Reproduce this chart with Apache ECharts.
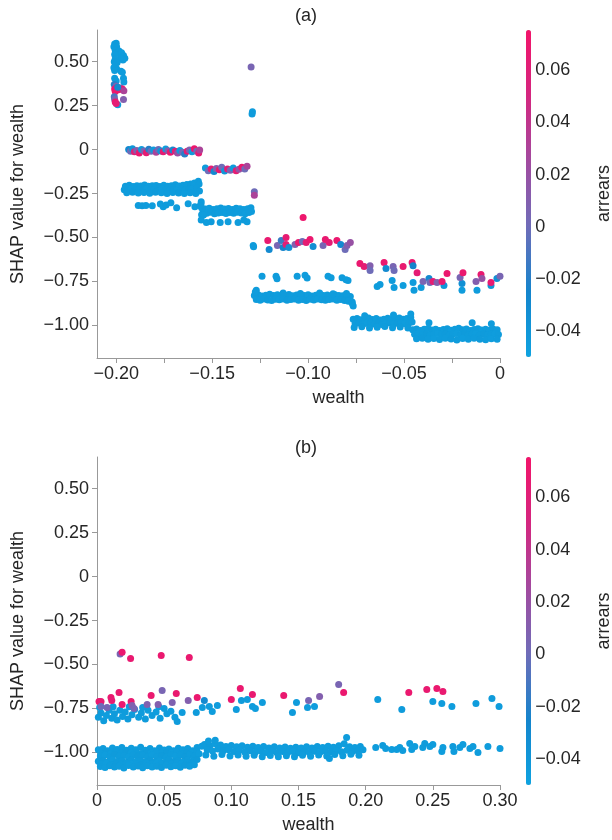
<!DOCTYPE html>
<html>
<head>
<meta charset="utf-8">
<script src="https://cdn.jsdelivr.net/npm/echarts@6/dist/echarts.min.js"></script>
<style>
html, body { margin: 0; padding: 0; background: #fff; }
#chart { width: 612px; height: 840px; }
</style>
</head>
<body>
<div id="chart"></div>
<script>
// each point: [wealth, SHAP value for wealth, arrears]

// panel (a) - blue points (low arrears)
const blueA = [
  // top left cluster
  [-0.2008,0.60,-0.045],[-0.2,0.605,-0.044],[-0.2012,0.585,-0.046],[-0.1998,0.585,-0.045],[-0.2005,0.565,-0.045],[-0.1995,0.55,-0.044],
  [-0.1985,0.56,-0.045],[-0.1972,0.55,-0.046],[-0.1962,0.535,-0.045],[-0.1955,0.52,-0.044],[-0.1965,0.51,-0.045],[-0.1978,0.52,-0.045],
  [-0.2008,0.54,-0.046],[-0.2005,0.515,-0.045],[-0.201,0.5,-0.044],[-0.1995,0.495,-0.045],[-0.2005,0.48,-0.045],[-0.2012,0.465,-0.046],
  [-0.1998,0.46,-0.045],[-0.2008,0.45,-0.045],[-0.1975,0.445,-0.044],[-0.1968,0.44,-0.045],[-0.2008,0.405,-0.045],[-0.2,0.39,-0.044],
  [-0.1962,0.405,-0.045],[-0.196,0.385,-0.046],[-0.1992,0.255,-0.045],
  [-0.129,0.215,-0.045],[-0.1292,0.203,-0.044],
  // band at -0.22
  [-0.1952,-0.208,-0.045],[-0.1932,-0.203,-0.044],[-0.1912,-0.21,-0.046],[-0.1892,-0.205,-0.045],[-0.1872,-0.207,-0.045],[-0.1852,-0.202,-0.044],
  [-0.1832,-0.209,-0.046],[-0.1812,-0.206,-0.045],[-0.1792,-0.204,-0.045],[-0.1772,-0.21,-0.044],[-0.1752,-0.203,-0.046],[-0.1732,-0.208,-0.045],
  [-0.1712,-0.205,-0.045],[-0.1692,-0.2,-0.044],[-0.1672,-0.207,-0.046],[-0.1652,-0.203,-0.045],[-0.1632,-0.198,-0.045],[-0.1612,-0.195,-0.044],
  [-0.1592,-0.19,-0.046],[-0.1572,-0.18,-0.045],[-0.1568,-0.195,-0.045],
  [-0.1958,-0.228,-0.045],[-0.1942,-0.233,-0.044],[-0.1922,-0.226,-0.046],[-0.1902,-0.231,-0.045],[-0.1882,-0.227,-0.045],[-0.1862,-0.233,-0.044],
  [-0.1842,-0.226,-0.046],[-0.1822,-0.23,-0.045],[-0.1802,-0.228,-0.045],[-0.1782,-0.233,-0.044],[-0.1762,-0.226,-0.046],[-0.1742,-0.229,-0.045],
  [-0.1722,-0.233,-0.045],[-0.1702,-0.227,-0.044],[-0.1682,-0.23,-0.046],[-0.1662,-0.225,-0.045],[-0.1642,-0.231,-0.045],[-0.1622,-0.226,-0.044],
  [-0.1602,-0.222,-0.046],[-0.1582,-0.215,-0.045],[-0.1566,-0.235,-0.045],
  [-0.1945,-0.245,-0.045],[-0.1915,-0.242,-0.044],[-0.1885,-0.247,-0.046],[-0.1855,-0.244,-0.045],[-0.1825,-0.248,-0.045],[-0.1795,-0.243,-0.044],
  [-0.1765,-0.246,-0.046],[-0.1735,-0.249,-0.045],[-0.1705,-0.244,-0.045],[-0.1675,-0.247,-0.044],[-0.1645,-0.25,-0.046],[-0.1615,-0.245,-0.045],
  [-0.1585,-0.25,-0.045],
  [-0.1885,-0.318,-0.045],[-0.1865,-0.32,-0.044],[-0.1845,-0.318,-0.045],[-0.1812,-0.32,-0.046],[-0.177,-0.31,-0.045],[-0.1755,-0.325,-0.045],
  [-0.174,-0.315,-0.044],[-0.1715,-0.302,-0.045],[-0.1685,-0.33,-0.045],[-0.1625,-0.308,-0.046],[-0.159,-0.325,-0.045],[-0.1557,-0.297,-0.045],
  // band at -0.35
  [-0.1555,-0.33,-0.045],[-0.1535,-0.338,-0.044],[-0.1515,-0.334,-0.046],[-0.1495,-0.34,-0.045],[-0.1475,-0.336,-0.045],[-0.1455,-0.332,-0.044],
  [-0.1435,-0.338,-0.046],[-0.1415,-0.335,-0.045],[-0.1395,-0.34,-0.045],[-0.1375,-0.333,-0.044],[-0.1355,-0.337,-0.046],[-0.1335,-0.341,-0.045],
  [-0.1315,-0.336,-0.045],[-0.1298,-0.33,-0.044],
  [-0.1548,-0.358,-0.045],[-0.1528,-0.362,-0.046],[-0.1508,-0.356,-0.045],[-0.1488,-0.365,-0.044],[-0.1468,-0.36,-0.045],[-0.1448,-0.357,-0.045],
  [-0.1428,-0.363,-0.046],[-0.1408,-0.358,-0.045],[-0.1388,-0.362,-0.044],[-0.1368,-0.356,-0.045],[-0.1348,-0.36,-0.045],[-0.1328,-0.365,-0.046],
  [-0.1308,-0.358,-0.045],[-0.1295,-0.352,-0.045],
  [-0.1558,-0.31,-0.045],[-0.1562,-0.32,-0.044],[-0.1555,-0.37,-0.045],[-0.1545,-0.372,-0.046],
  [-0.1557,-0.4,-0.045],[-0.153,-0.415,-0.045],[-0.1505,-0.41,-0.044],[-0.1458,-0.415,-0.045],[-0.1417,-0.41,-0.046],[-0.1365,-0.415,-0.045],
  [-0.1318,-0.41,-0.045],[-0.1335,-0.4,-0.044],
  [-0.1286,-0.545,-0.045],[-0.1284,-0.552,-0.044],
  // row at -0.73
  [-0.124,-0.72,-0.045],[-0.1167,-0.72,-0.045],[-0.1162,-0.735,-0.044],[-0.1057,-0.72,-0.045],[-0.1016,-0.715,-0.046],[-0.1005,-0.73,-0.045],
  [-0.0896,-0.72,-0.045],[-0.088,-0.728,-0.045],[-0.0823,-0.728,-0.044],[-0.0802,-0.74,-0.045],[-0.0792,-0.745,-0.045],[-0.127,-0.80,-0.045],
  // band at -0.84
  [-0.128,-0.83,-0.045],[-0.126,-0.825,-0.044],[-0.124,-0.832,-0.046],[-0.122,-0.828,-0.045],[-0.12,-0.823,-0.045],[-0.118,-0.83,-0.044],
  [-0.116,-0.826,-0.046],[-0.114,-0.833,-0.045],[-0.112,-0.829,-0.045],[-0.11,-0.824,-0.044],[-0.108,-0.831,-0.046],[-0.106,-0.827,-0.045],
  [-0.104,-0.822,-0.045],[-0.102,-0.83,-0.044],[-0.1,-0.826,-0.046],[-0.098,-0.832,-0.045],[-0.096,-0.828,-0.045],[-0.094,-0.823,-0.044],
  [-0.092,-0.83,-0.046],[-0.09,-0.827,-0.045],[-0.088,-0.833,-0.045],[-0.086,-0.825,-0.044],[-0.084,-0.829,-0.046],[-0.082,-0.831,-0.045],
  [-0.08,-0.826,-0.045],[-0.078,-0.835,-0.044],
  [-0.127,-0.852,-0.045],[-0.125,-0.856,-0.046],[-0.123,-0.85,-0.045],[-0.121,-0.855,-0.044],[-0.119,-0.858,-0.045],[-0.117,-0.851,-0.045],
  [-0.115,-0.854,-0.046],[-0.113,-0.849,-0.045],[-0.111,-0.857,-0.044],[-0.109,-0.853,-0.045],[-0.107,-0.85,-0.045],[-0.105,-0.856,-0.046],
  [-0.103,-0.852,-0.045],[-0.101,-0.858,-0.044],[-0.099,-0.851,-0.045],[-0.097,-0.855,-0.045],[-0.095,-0.849,-0.046],[-0.093,-0.854,-0.045],
  [-0.091,-0.857,-0.044],[-0.089,-0.852,-0.045],[-0.087,-0.85,-0.045],[-0.085,-0.856,-0.046],[-0.083,-0.853,-0.045],[-0.081,-0.858,-0.044],
  [-0.079,-0.862,-0.045],[-0.077,-0.866,-0.045],
  [-0.1275,-0.81,-0.045],[-0.113,-0.815,-0.044],[-0.104,-0.818,-0.045],[-0.094,-0.815,-0.046],[-0.087,-0.82,-0.045],[-0.08,-0.818,-0.045],
  [-0.077,-0.875,-0.044],[-0.0765,-0.89,-0.045],
  // lower blue near -0.77
  [-0.064,-0.778,-0.045],[-0.0625,-0.767,-0.045],[-0.0562,-0.744,-0.044],[-0.0552,-0.784,-0.045],[-0.0505,-0.773,-0.046],[-0.0453,-0.756,-0.045],
  [-0.0448,-0.80,-0.045],[-0.0411,-0.784,-0.044],[-0.037,-0.733,-0.03],[-0.0292,-0.773,-0.04],[-0.0198,-0.761,-0.035],[-0.0198,-0.80,-0.045],
  [-0.012,-0.80,-0.045],[-0.0047,-0.773,-0.04],[-0.0016,-0.733,-0.035],
  // band at -0.98
  [-0.0765,-0.965,-0.045],[-0.0745,-0.96,-0.044],[-0.0725,-0.968,-0.046],[-0.0705,-0.963,-0.045],[-0.0685,-0.958,-0.045],[-0.0665,-0.966,-0.044],
  [-0.0645,-0.961,-0.046],[-0.0625,-0.969,-0.045],[-0.0605,-0.964,-0.045],[-0.0585,-0.959,-0.044],[-0.0565,-0.967,-0.046],[-0.0545,-0.962,-0.045],
  [-0.0525,-0.957,-0.045],[-0.0505,-0.965,-0.044],[-0.0485,-0.96,-0.046],[-0.0465,-0.955,-0.045],
  [-0.0755,-0.99,-0.045],[-0.0735,-0.986,-0.044],[-0.0715,-0.993,-0.045],[-0.0695,-0.988,-0.046],[-0.0675,-0.984,-0.045],[-0.0655,-0.991,-0.045],
  [-0.0635,-0.987,-0.044],[-0.0615,-0.994,-0.045],[-0.0595,-0.989,-0.046],[-0.0575,-0.985,-0.045],[-0.0555,-0.992,-0.045],[-0.0535,-0.988,-0.044],
  [-0.0515,-0.983,-0.045],[-0.0495,-0.99,-0.046],[-0.0475,-0.986,-0.045],[-0.0458,-0.98,-0.045],
  [-0.076,-1.012,-0.045],[-0.072,-1.008,-0.044],[-0.068,-1.015,-0.045],[-0.064,-1.01,-0.046],[-0.06,-1.006,-0.045],[-0.056,-1.013,-0.045],
  [-0.052,-1.009,-0.044],[-0.048,-1.015,-0.045],
  [-0.0555,-0.94,-0.045],[-0.0465,-0.935,-0.045],[-0.0705,-0.945,-0.044],
  // band at -1.05
  [-0.0455,-1.025,-0.045],[-0.0435,-1.02,-0.044],[-0.0415,-1.028,-0.046],[-0.0395,-1.022,-0.045],[-0.0375,-1.017,-0.045],[-0.0355,-1.026,-0.044],
  [-0.0335,-1.021,-0.046],[-0.0315,-1.029,-0.045],[-0.0295,-1.023,-0.045],[-0.0275,-1.018,-0.044],[-0.0255,-1.027,-0.046],[-0.0235,-1.022,-0.045],
  [-0.0215,-1.016,-0.045],[-0.0195,-1.025,-0.044],[-0.0175,-1.02,-0.046],[-0.0155,-1.028,-0.045],[-0.0135,-1.023,-0.045],[-0.0115,-1.018,-0.044],
  [-0.0095,-1.026,-0.046],[-0.0075,-1.021,-0.045],[-0.0055,-1.027,-0.045],[-0.0035,-1.022,-0.044],[-0.0015,-1.025,-0.045],
  [-0.0445,-1.05,-0.045],[-0.0425,-1.046,-0.046],[-0.0405,-1.053,-0.045],[-0.0385,-1.048,-0.044],[-0.0365,-1.055,-0.045],[-0.0345,-1.05,-0.045],
  [-0.0325,-1.045,-0.046],[-0.0305,-1.052,-0.045],[-0.0285,-1.048,-0.044],[-0.0265,-1.055,-0.045],[-0.0245,-1.049,-0.045],[-0.0225,-1.046,-0.046],
  [-0.0205,-1.053,-0.045],[-0.0185,-1.048,-0.044],[-0.0165,-1.055,-0.045],[-0.0145,-1.05,-0.045],[-0.0125,-1.046,-0.046],[-0.0105,-1.053,-0.045],
  [-0.0085,-1.048,-0.044],[-0.0065,-1.054,-0.045],[-0.0045,-1.05,-0.045],[-0.0025,-1.047,-0.046],[-0.0008,-1.052,-0.045],
  [-0.0435,-1.075,-0.045],[-0.0405,-1.072,-0.044],[-0.0375,-1.078,-0.045],[-0.0345,-1.074,-0.046],[-0.0315,-1.08,-0.045],[-0.0285,-1.073,-0.045],
  [-0.0255,-1.077,-0.044],[-0.0225,-1.082,-0.045],[-0.0195,-1.074,-0.046],[-0.0165,-1.079,-0.045],[-0.0135,-1.073,-0.045],[-0.0105,-1.078,-0.044],
  [-0.0075,-1.081,-0.045],[-0.0045,-1.075,-0.046],[-0.0015,-1.079,-0.045],
  [-0.037,-0.985,-0.045],[-0.0145,-0.985,-0.044],[-0.0045,-0.99,-0.045]
];

// panel (a) - mixed colour points
const mixedA = [
  [-0.201,0.37,-0.02],[-0.2,0.36,0.005],[-0.2008,0.345,0.07],[-0.1998,0.35,0.06],[-0.1988,0.34,0.065],[-0.1978,0.35,0.01],
  [-0.1968,0.345,0.068],[-0.196,0.335,0.03],[-0.2005,0.33,0.072],[-0.1992,0.355,-0.03],
  [-0.201,0.3,-0.01],[-0.2008,0.285,0.005],[-0.2005,0.27,0.07],[-0.2,0.262,0.065],[-0.1962,0.285,0.01],
  [-0.1297,0.47,0.005],
  // band at 0
  [-0.1935,0.0,-0.03],[-0.1925,-0.01,0.0],[-0.1915,0.005,-0.04],[-0.1905,-0.012,0.06],[-0.1893,-0.005,0.01],[-0.188,-0.02,0.07],
  [-0.1868,0.0,-0.045],[-0.1855,-0.008,0.005],[-0.1843,-0.018,0.065],[-0.183,0.002,-0.02],[-0.1818,-0.01,0.0],[-0.1805,-0.003,-0.045],
  [-0.1792,-0.015,0.03],[-0.178,0.0,0.0],[-0.1768,-0.008,-0.04],[-0.1755,-0.012,0.065],[-0.1742,0.003,-0.045],[-0.173,-0.006,0.01],
  [-0.1718,-0.015,0.07],[-0.1705,-0.002,-0.03],[-0.1692,-0.01,0.06],[-0.168,-0.02,0.02],[-0.1668,-0.005,-0.045],[-0.1655,-0.015,0.0],
  [-0.1643,-0.025,-0.02],[-0.163,-0.01,0.065],[-0.1618,-0.003,0.01],[-0.1605,-0.012,-0.045],[-0.1593,0.005,0.07],[-0.158,-0.01,0.0],
  [-0.157,-0.02,0.065],[-0.1565,-0.002,0.03],
  // band at -0.11
  [-0.1535,-0.105,-0.045],[-0.152,-0.12,0.0],[-0.1505,-0.11,0.065],[-0.149,-0.125,-0.03],[-0.1478,-0.108,0.01],[-0.1462,-0.115,0.07],
  [-0.145,-0.10,0.0],[-0.1435,-0.122,-0.04],[-0.142,-0.11,0.06],[-0.1405,-0.118,0.005],[-0.139,-0.105,-0.045],[-0.1375,-0.12,0.065],
  [-0.136,-0.112,0.02],[-0.1345,-0.1,0.07],[-0.133,-0.11,0.0],[-0.1318,-0.095,0.03],
  [-0.128,-0.24,0.0],[-0.128,-0.26,0.03],
  // group at -0.53
  [-0.121,-0.517,0.068],[-0.1203,-0.568,-0.03],[-0.116,-0.545,0.005],[-0.114,-0.517,-0.015],[-0.113,-0.557,-0.025],[-0.1115,-0.50,0.066],
  [-0.1115,-0.54,0.06],[-0.11,-0.557,-0.035],[-0.1068,-0.54,0.01],[-0.105,-0.528,0.07],[-0.103,-0.523,0.0],[-0.101,-0.528,0.065],
  [-0.099,-0.511,0.07],[-0.0974,-0.551,-0.035],[-0.0922,-0.545,0.005],[-0.091,-0.511,0.068],[-0.089,-0.528,0.064],[-0.085,-0.517,0.07],
  [-0.083,-0.54,-0.03],[-0.0807,-0.568,0.0],[-0.0797,-0.545,0.01],[-0.078,-0.528,0.02],
  [-0.1026,-0.386,0.072],
  // group at -0.66
  [-0.073,-0.648,0.07],[-0.0708,-0.665,0.065],[-0.0677,-0.66,0.01],[-0.0677,-0.687,0.0],[-0.0604,-0.642,0.07],[-0.0594,-0.676,-0.03],
  [-0.0557,-0.665,0.005],[-0.0552,-0.687,0.0],[-0.0505,-0.665,0.068],[-0.0458,-0.642,0.07],[-0.0453,-0.66,-0.025],[-0.0432,-0.70,0.065],
  // group at -0.74
  [-0.0401,-0.75,0.005],[-0.0365,-0.756,0.0],[-0.0349,-0.75,0.065],[-0.0328,-0.756,0.01],[-0.0302,-0.75,0.068],[-0.0276,-0.705,0.07],
  [-0.0208,-0.727,0.005],[-0.0193,-0.70,0.07],[-0.0125,-0.75,0.01],[-0.0099,-0.71,0.068],[-0.0094,-0.733,0.02],[-0.0047,-0.756,0.066],
  [0.0,-0.72,0.005]
];

// panel (b) - blue points (low arrears)
const blueB = [
  // dense band, wealth 0 to 0.08
  [0.001,-0.985,-0.045],[0.0045,-0.978,-0.044],[0.008,-0.99,-0.046],[0.0115,-0.975,-0.045],[0.015,-0.983,-0.045],[0.0185,-0.972,-0.044],
  [0.022,-0.988,-0.046],[0.0255,-0.976,-0.045],[0.029,-0.984,-0.045],[0.0325,-0.97,-0.044],[0.036,-0.987,-0.046],[0.0395,-0.978,-0.045],
  [0.043,-0.99,-0.045],[0.0465,-0.974,-0.044],[0.05,-0.986,-0.046],[0.0535,-0.98,-0.045],[0.057,-0.99,-0.045],[0.0605,-0.976,-0.044],
  [0.064,-0.985,-0.046],[0.0675,-0.978,-0.045],[0.071,-0.99,-0.045],[0.0745,-0.972,-0.044],[0.078,-0.965,-0.046],
  [0.003,-1.003,-0.045],[0.0068,-0.998,-0.044],[0.0105,-1.006,-0.046],[0.0142,-1.0,-0.045],[0.018,-1.004,-0.045],[0.0218,-0.997,-0.044],
  [0.0255,-1.005,-0.046],[0.0292,-1.0,-0.045],[0.033,-1.006,-0.045],[0.0368,-0.999,-0.044],[0.0405,-1.003,-0.046],[0.0442,-0.998,-0.045],
  [0.048,-1.005,-0.045],[0.0518,-1.0,-0.044],[0.0555,-1.004,-0.046],[0.0592,-0.998,-0.045],[0.063,-1.006,-0.045],[0.0668,-1.0,-0.044],
  [0.0705,-1.003,-0.046],[0.0742,-0.995,-0.045],
  [0.0025,-1.02,-0.045],[0.006,-1.015,-0.046],[0.0095,-1.025,-0.045],[0.013,-1.012,-0.044],[0.0165,-1.022,-0.045],[0.02,-1.017,-0.045],
  [0.0235,-1.027,-0.046],[0.027,-1.013,-0.045],[0.0305,-1.021,-0.044],[0.034,-1.016,-0.045],[0.0375,-1.026,-0.045],[0.041,-1.014,-0.046],
  [0.0445,-1.023,-0.045],[0.048,-1.018,-0.044],[0.0515,-1.027,-0.045],[0.055,-1.012,-0.045],[0.0585,-1.022,-0.046],[0.062,-1.016,-0.045],
  [0.0655,-1.025,-0.044],[0.069,-1.013,-0.045],[0.0725,-1.02,-0.045],[0.076,-1.008,-0.046],
  [0.001,-1.05,-0.045],[0.0045,-1.045,-0.044],[0.008,-1.055,-0.045],[0.0115,-1.042,-0.046],[0.015,-1.052,-0.045],[0.0185,-1.047,-0.045],
  [0.022,-1.057,-0.044],[0.0255,-1.043,-0.045],[0.029,-1.051,-0.046],[0.0325,-1.046,-0.045],[0.036,-1.056,-0.045],[0.0395,-1.044,-0.044],
  [0.043,-1.053,-0.045],[0.0465,-1.048,-0.046],[0.05,-1.057,-0.045],[0.0535,-1.042,-0.045],[0.057,-1.052,-0.044],[0.0605,-1.046,-0.045],
  [0.064,-1.055,-0.046],[0.0675,-1.043,-0.045],[0.071,-1.05,-0.045],[0.0745,-1.04,-0.044],
  [0.003,-1.066,-0.045],[0.0068,-1.062,-0.046],[0.0105,-1.068,-0.045],[0.0142,-1.063,-0.044],[0.018,-1.067,-0.045],[0.0218,-1.061,-0.045],
  [0.0255,-1.066,-0.046],[0.0292,-1.063,-0.045],[0.033,-1.068,-0.044],[0.0368,-1.062,-0.045],[0.0405,-1.066,-0.045],[0.0442,-1.061,-0.046],
  [0.048,-1.067,-0.045],[0.0518,-1.063,-0.044],[0.0555,-1.066,-0.045],[0.0592,-1.06,-0.045],[0.063,-1.065,-0.046],[0.0668,-1.06,-0.045],
  [0.0705,-1.062,-0.044],
  [0.0025,-1.08,-0.045],[0.006,-1.086,-0.046],[0.0095,-1.075,-0.045],[0.013,-1.083,-0.044],[0.0165,-1.078,-0.045],[0.02,-1.088,-0.045],
  [0.0235,-1.074,-0.046],[0.027,-1.082,-0.045],[0.0305,-1.077,-0.044],[0.034,-1.087,-0.045],[0.0375,-1.075,-0.045],[0.041,-1.083,-0.046],
  [0.0445,-1.078,-0.045],[0.048,-1.085,-0.044],[0.0515,-1.073,-0.045],[0.055,-1.081,-0.045],[0.0585,-1.076,-0.046],[0.062,-1.084,-0.045],
  [0.0655,-1.072,-0.044],[0.069,-1.079,-0.045],[0.0725,-1.07,-0.045],
  // dense band, wealth 0.08 to 0.2
  [0.08,-0.955,-0.045],[0.084,-0.962,-0.044],[0.088,-0.95,-0.046],[0.092,-0.958,-0.045],[0.096,-0.966,-0.045],[0.1,-0.96,-0.044],
  [0.104,-0.968,-0.046],[0.108,-0.962,-0.045],[0.112,-0.97,-0.045],[0.116,-0.965,-0.044],[0.12,-0.972,-0.046],[0.124,-0.966,-0.045],
  [0.128,-0.974,-0.045],[0.132,-0.968,-0.044],[0.136,-0.975,-0.046],[0.14,-0.969,-0.045],[0.144,-0.976,-0.045],[0.148,-0.97,-0.044],
  [0.152,-0.975,-0.046],[0.156,-0.968,-0.045],[0.16,-0.974,-0.045],[0.164,-0.966,-0.044],[0.168,-0.972,-0.046],[0.172,-0.965,-0.045],
  [0.176,-0.97,-0.045],[0.18,-0.962,-0.044],[0.184,-0.95,-0.046],[0.188,-0.968,-0.045],[0.192,-0.972,-0.045],[0.196,-0.966,-0.044],
  [0.082,-0.985,-0.045],[0.086,-0.992,-0.046],[0.09,-0.98,-0.045],[0.094,-0.99,-0.044],[0.098,-0.985,-0.045],[0.102,-0.995,-0.045],
  [0.106,-0.988,-0.046],[0.11,-0.997,-0.045],[0.114,-0.99,-0.044],[0.118,-0.998,-0.045],[0.122,-0.992,-0.045],[0.126,-1.0,-0.046],
  [0.13,-0.993,-0.045],[0.134,-1.001,-0.044],[0.138,-0.994,-0.045],[0.142,-1.0,-0.045],[0.146,-0.995,-0.046],[0.15,-1.002,-0.045],
  [0.154,-0.996,-0.044],[0.158,-1.0,-0.045],[0.162,-0.993,-0.045],[0.166,-0.999,-0.046],[0.17,-0.992,-0.045],[0.174,-0.998,-0.044],
  [0.178,-0.99,-0.045],[0.182,-0.996,-0.045],[0.186,-0.988,-0.046],[0.19,-0.994,-0.045],[0.194,-0.99,-0.044],[0.198,-0.985,-0.045],
  [0.081,-1.015,-0.045],[0.087,-1.022,-0.044],[0.093,-1.012,-0.045],[0.099,-1.02,-0.046],[0.105,-1.014,-0.045],[0.111,-1.022,-0.045],
  [0.117,-1.016,-0.044],[0.123,-1.024,-0.045],[0.129,-1.017,-0.046],[0.135,-1.025,-0.045],[0.141,-1.018,-0.045],[0.147,-1.024,-0.044],
  [0.153,-1.016,-0.045],[0.159,-1.022,-0.046],[0.165,-1.015,-0.045],[0.171,-1.02,-0.045],[0.177,-1.012,-0.044],[0.183,-1.018,-0.045],
  [0.189,-1.01,-0.046],[0.195,-1.016,-0.045],
  [0.1858,-0.915,-0.045],[0.173,-1.035,-0.044],[0.083,-0.935,-0.045],[0.088,-0.93,-0.045],
  // sparse band, wealth 0.2 to 0.3
  [0.2075,-0.972,-0.045],[0.2127,-0.96,-0.044],[0.2149,-0.977,-0.045],[0.2194,-0.983,-0.046],[0.2231,-0.983,-0.045],[0.2254,-0.972,-0.045],
  [0.2276,-0.989,-0.044],[0.2328,-0.949,-0.045],[0.2343,-0.983,-0.045],[0.2366,-0.966,-0.046],[0.2425,-0.972,-0.045],[0.244,-0.949,-0.044],
  [0.2478,-0.966,-0.045],[0.25,-0.955,-0.045],[0.2567,-0.994,-0.046],[0.2575,-0.972,-0.045],[0.2649,-0.966,-0.044],[0.2657,-0.994,-0.045],
  [0.2701,-0.972,-0.045],[0.2724,-0.955,-0.046],[0.2776,-0.977,-0.045],[0.2799,-0.966,-0.044],[0.2836,-1.0,-0.045],[0.291,-0.966,-0.045],
  [0.3,-0.977,-0.045],
  // upper blue group near -0.78
  [0.001,-0.8,-0.045],[0.003,-0.775,-0.044],[0.005,-0.82,-0.045],[0.007,-0.79,-0.046],[0.009,-0.76,-0.045],[0.011,-0.805,-0.045],
  [0.013,-0.78,-0.044],[0.015,-0.815,-0.045],[0.017,-0.76,-0.045],[0.019,-0.795,-0.046],[0.021,-0.77,-0.045],[0.023,-0.81,-0.044],
  [0.026,-0.785,-0.045],[0.028,-0.755,-0.045],[0.031,-0.8,-0.046],[0.033,-0.775,-0.045],[0.036,-0.81,-0.044],[0.038,-0.76,-0.045],
  [0.041,-0.79,-0.045],[0.044,-0.77,-0.046],[0.047,-0.805,-0.045],[0.05,-0.75,-0.044],[0.052,-0.78,-0.045],[0.055,-0.765,-0.045],
  [0.058,-0.8,-0.046],[0.002,-0.745,-0.045],[0.012,-0.74,-0.044],[0.024,-0.74,-0.045],[0.034,-0.745,-0.045],[0.046,-0.74,-0.046],
  [0.0597,-0.824,-0.045],[0.0634,-0.773,-0.045],[0.0739,-0.773,-0.044],[0.0784,-0.744,-0.045],[0.0799,-0.705,-0.03],[0.0836,-0.739,-0.045],
  [0.0858,-0.767,-0.046],[0.0896,-0.733,-0.045],[0.1037,-0.756,-0.045],[0.1075,-0.705,-0.044],[0.1119,-0.699,-0.045],[0.1157,-0.739,-0.045],
  [0.1179,-0.75,-0.046],[0.1231,-0.716,-0.045],[0.1455,-0.773,-0.044],[0.1485,-0.716,-0.045],[0.1567,-0.744,-0.045],[0.1619,-0.739,-0.046],
  [0.209,-0.699,-0.045],[0.2269,-0.756,-0.044],[0.25,-0.71,-0.045],[0.2567,-0.722,-0.045],[0.2642,-0.739,-0.046],[0.2821,-0.722,-0.045],
  [0.294,-0.693,-0.044],[0.2993,-0.739,-0.045]
];

// panel (b) - mixed colour points
const mixedB = [
  [0.0172,-0.44,0.005],[0.0187,-0.43,0.07],[0.025,-0.466,0.068],[0.0478,-0.449,0.07],[0.0687,-0.46,0.069],
  [0.0164,-0.659,0.068],[0.0015,-0.71,0.07],[0.003,-0.71,0.066],[0.0104,-0.688,0.07],[0.011,-0.705,0.065],[0.0075,-0.744,0.005],
  [0.003,-0.739,0.0],[0.0187,-0.727,0.07],[0.0254,-0.71,0.068],[0.0261,-0.733,0.01],[0.0276,-0.75,0.005],[0.0373,-0.727,0.008],
  [0.0403,-0.676,0.069],[0.0455,-0.727,0.01],[0.0485,-0.648,0.005],[0.056,-0.716,0.008],[0.059,-0.665,0.068],[0.0679,-0.705,0.01],
  [0.0746,-0.688,0.07],[0.1,-0.699,0.068],[0.1067,-0.637,0.07],[0.1157,-0.671,0.068],[0.139,-0.676,0.069],[0.1575,-0.705,0.005],
  [0.1657,-0.682,0.01],[0.1799,-0.614,0.005],[0.1836,-0.659,0.07],[0.2321,-0.659,0.07],[0.2455,-0.642,0.068],[0.253,-0.637,0.07],
  [0.2575,-0.654,0.068]
];

// axes
const shapTicks = [-1, -0.75, -0.5, -0.25, 0, 0.25, 0.5];
const wealthTicksA = [-0.2, -0.175, -0.15, -0.125, -0.1, -0.075, -0.05, -0.025, 0];
const wealthLabelsA = [-0.2, -0.15, -0.1, -0.05, 0];
const wealthTicksB = [0, 0.05, 0.1, 0.15, 0.2, 0.25, 0.3];
const arrearsTicks = [-0.04, -0.02, 0, 0.02, 0.04, 0.06];
const arrearsColors = ['#0ea2e0', '#1484cc', '#6f6cb8', '#a24a9f', '#d4267f', '#f2146a'];

const FONT = 'Liberation Sans, Arial, sans-serif';
const GREY = '#999999';
const TEXT = '#262626';

function fmt(v) {
  if (Math.abs(v) < 1e-9) return '0';
  return v.toFixed(2).replace('-', '\u2212');
}

function xAxisFor(gridIndex, min, max, ticks, labels, namePad) {
  return {
    gridIndex: gridIndex, type: 'value', min: min, max: max,
    axisLine: {show: true, onZero: false, lineStyle: {color: GREY}},
    axisTick: {show: true, length: 5, customValues: ticks, lineStyle: {color: GREY}},
    axisLabel: {customValues: labels, formatter: fmt, fontSize: 18, color: TEXT, fontFamily: FONT, margin: 7},
    splitLine: {show: false},
    name: 'wealth', nameLocation: 'middle', nameGap: 31,
    nameTextStyle: {fontSize: 18, color: TEXT, fontFamily: FONT, padding: namePad}
  };
}

function yAxisFor(gridIndex) {
  return {
    gridIndex: gridIndex, type: 'value', min: -1.185, max: 0.68,
    axisLine: {show: true, onZero: false, lineStyle: {color: GREY}},
    axisTick: {show: true, length: 5, customValues: shapTicks, lineStyle: {color: GREY}},
    axisLabel: {customValues: shapTicks, formatter: fmt, fontSize: 18, color: TEXT, fontFamily: FONT, margin: 8},
    splitLine: {show: false},
    name: 'SHAP value for wealth', nameLocation: 'middle', nameGap: 70,
    nameTextStyle: {fontSize: 18, color: TEXT, fontFamily: FONT}
  };
}

function colorbarAxis(gridIndex) {
  return {
    gridIndex: gridIndex, type: 'value', position: 'right', min: -0.05, max: 0.0755,
    axisLine: {show: false},
    axisTick: {show: true, length: 4, customValues: arrearsTicks, lineStyle: {color: '#555'}},
    axisLabel: {customValues: arrearsTicks, formatter: fmt, fontSize: 18, color: TEXT, fontFamily: FONT, margin: 8},
    splitLine: {show: false},
    name: 'arrears', nameLocation: 'middle', nameRotate: 90, nameGap: 68,
    nameTextStyle: {fontSize: 18, color: TEXT, fontFamily: FONT}
  };
}

function colorbar(seriesIndex, top, height) {
  return {
    type: 'continuous', seriesIndex: seriesIndex, dimension: 2,
    min: -0.05, max: 0.0755, inRange: {color: arrearsColors},
    left: 526, top: top, itemWidth: 5, itemHeight: height, padding: 0,
    calculable: false, hoverLink: false
  };
}

const chart = echarts.init(document.getElementById('chart'));
chart.setOption({
  animation: false,
  backgroundColor: '#fff',
  title: [
    {text: '(a)', left: 'center', top: 7, padding: 0, textStyle: {fontSize: 18, fontWeight: 'normal', color: TEXT, fontFamily: FONT}},
    {text: '(b)', left: 'center', top: 439, padding: 0, textStyle: {fontSize: 18, fontWeight: 'normal', color: TEXT, fontFamily: FONT}}
  ],
  grid: [
    {left: 97, top: 30, width: 403, height: 328},
    {left: 97, top: 457, width: 403, height: 328},
    {left: 526, top: 30, width: 5, height: 327},
    {left: 526, top: 457, width: 5, height: 328}
  ],
  xAxis: [
    xAxisFor(0, -0.21, 0, wealthTicksA, wealthLabelsA, [0, 0, 0, 80]),
    xAxisFor(1, 0, 0.3, wealthTicksB, wealthTicksB, [0, 0, 0, 20]),
    {gridIndex: 2, type: 'value', show: false},
    {gridIndex: 3, type: 'value', show: false}
  ],
  yAxis: [yAxisFor(0), yAxisFor(1), colorbarAxis(2), colorbarAxis(3)],
  visualMap: [colorbar(0, 30, 327), colorbar(1, 457, 328)],
  series: [
    {type: 'scatter', xAxisIndex: 0, yAxisIndex: 0, symbolSize: 7, itemStyle: {opacity: 1},
     data: blueA.concat(mixedA), emphasis: {disabled: true}},
    {type: 'scatter', xAxisIndex: 1, yAxisIndex: 1, symbolSize: 7, itemStyle: {opacity: 1},
     data: blueB.concat(mixedB), emphasis: {disabled: true}}
  ]
});
</script>
</body>
</html>
